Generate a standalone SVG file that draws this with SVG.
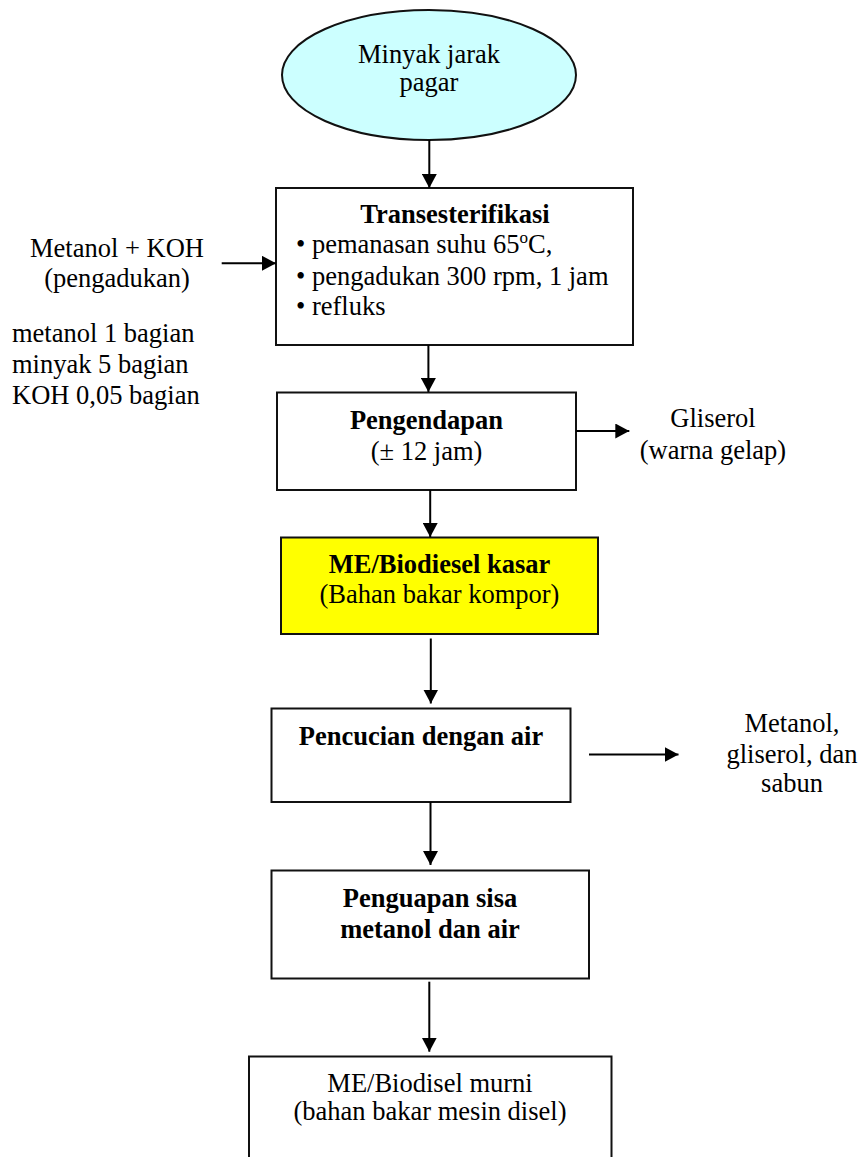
<svg xmlns="http://www.w3.org/2000/svg" width="863" height="1157" viewBox="0 0 863 1157">
<style>
text{font-family:"Liberation Serif","Times New Roman",serif;font-size:26.5px;fill:#000}
.c{text-anchor:middle}
.b{font-weight:bold}
.box{fill:#fff;stroke:#111;stroke-width:2}
.conn{stroke:#000;stroke-width:2;fill:none}
</style>
<defs>
<marker id="ah" markerUnits="userSpaceOnUse" markerWidth="15" markerHeight="15" refX="14" refY="7.5" orient="auto">
<path d="M0,0 L14,7.5 L0,15 z" fill="#000"/>
</marker>
</defs>
<rect width="863" height="1157" fill="#fff"/>

<g id="start">
<ellipse cx="429" cy="75" rx="147" ry="65" fill="#CCFFFF" stroke="#111" stroke-width="2"/>
<text class="c" x="429" y="63">Minyak jarak</text>
<text class="c" x="429" y="91">pagar</text>
</g>

<g id="transesterifikasi">
<rect class="box" x="276" y="188" width="357" height="157"/>
<text class="c b" x="455" y="223">Transesterifikasi</text>
<text x="296" y="253">• pemanasan suhu 65<tspan font-size="17" dy="-10">o</tspan><tspan dy="10">C,</tspan></text>
<text x="296" y="285">• pengadukan 300 rpm, 1 jam</text>
<text x="296" y="315">• refluks</text>
</g>

<g id="input">
<text class="c" x="117" y="257">Metanol + KOH</text>
<text class="c" x="117" y="287">(pengadukan)</text>
<text x="12" y="342">metanol 1 bagian</text>
<text x="12" y="373">minyak 5 bagian</text>
<text x="12" y="404">KOH 0,05 bagian</text>
</g>

<g id="pengendapan">
<rect class="box" x="277" y="392.5" width="299" height="97.5"/>
<text class="c b" x="426.5" y="428.5">Pengendapan</text>
<text class="c" x="426.5" y="459.5">(± 12 jam)</text>
</g>

<g id="gliserol">
<text class="c" x="713" y="427">Gliserol</text>
<text class="c" x="713" y="458.5">(warna gelap)</text>
</g>

<g id="biodiesel-kasar">
<rect x="281" y="537.5" width="317" height="96.5" fill="#FFFF00" stroke="#111" stroke-width="2"/>
<text class="c b" x="439.5" y="572.5">ME/Biodiesel kasar</text>
<text class="c" x="439.5" y="603">(Bahan bakar kompor)</text>
</g>

<g id="pencucian">
<rect class="box" x="271.5" y="708.5" width="299" height="93.5"/>
<text class="c b" x="421" y="745">Pencucian dengan air</text>
</g>

<g id="limbah-cuci">
<text class="c" x="792" y="731.5">Metanol,</text>
<text class="c" x="792" y="763">gliserol, dan</text>
<text class="c" x="792" y="791.5">sabun</text>
</g>

<g id="penguapan">
<rect class="box" x="271.5" y="870.5" width="317.5" height="108"/>
<text class="c b" x="430" y="906.5">Penguapan sisa</text>
<text class="c b" x="430" y="937.5">metanol dan air</text>
</g>

<g id="biodiesel-murni">
<rect class="box" x="249" y="1056.5" width="362.5" height="120"/>
<text class="c" x="430" y="1091.5">ME/Biodisel murni</text>
<text class="c" x="430" y="1120">(bahan bakar mesin disel)</text>
</g>

<g id="connectors">
<line class="conn" x1="429.3" y1="140" x2="429.3" y2="188" marker-end="url(#ah)"/>
<line class="conn" x1="221.7" y1="263.3" x2="276" y2="263.3" marker-end="url(#ah)"/>
<line class="conn" x1="428.4" y1="345" x2="428.4" y2="392" marker-end="url(#ah)"/>
<line class="conn" x1="576" y1="431" x2="629.3" y2="431" marker-end="url(#ah)"/>
<line class="conn" x1="430.2" y1="490" x2="430.2" y2="537" marker-end="url(#ah)"/>
<line class="conn" x1="430.8" y1="638.5" x2="430.8" y2="703.5" marker-end="url(#ah)"/>
<line class="conn" x1="589" y1="754.5" x2="678.5" y2="754.5" marker-end="url(#ah)"/>
<line class="conn" x1="430.5" y1="802" x2="430.5" y2="865" marker-end="url(#ah)"/>
<line class="conn" x1="429.3" y1="981.7" x2="429.3" y2="1051.7" marker-end="url(#ah)"/>
</g>
</svg>
